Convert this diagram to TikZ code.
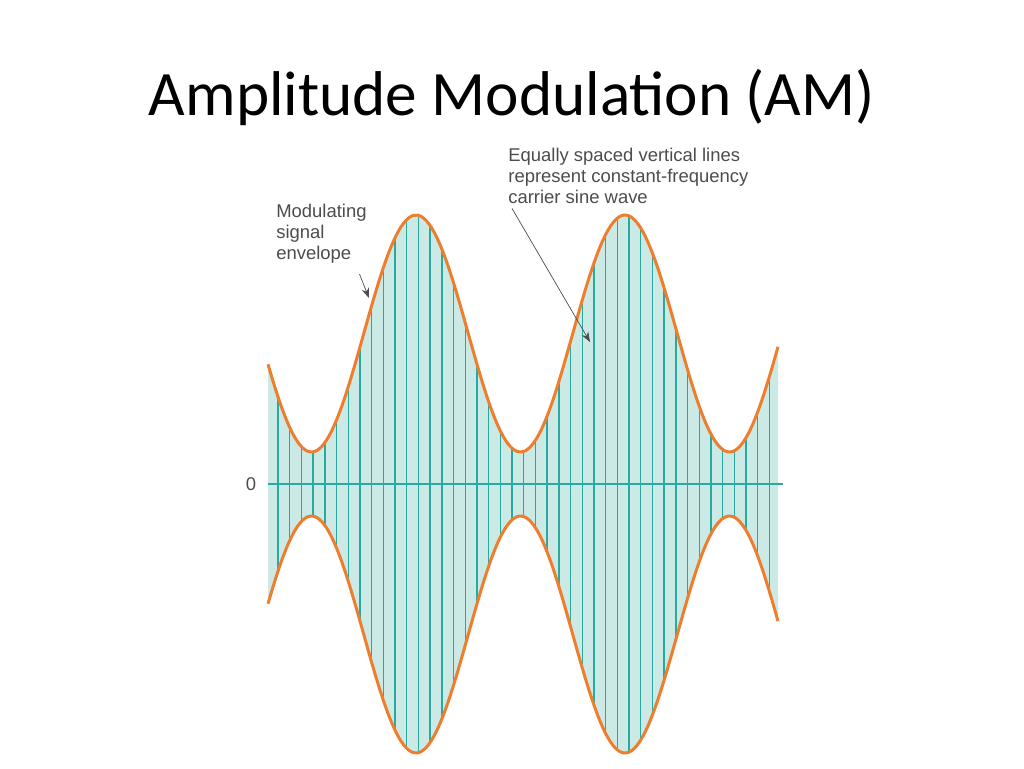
\documentclass[tikz,border=0pt]{standalone}
\usepackage{fontspec}
\setmainfont{Carlito}
\newfontfamily\labelfont{Liberation Sans}
\usetikzlibrary{positioning}
\usetikzlibrary{arrows.meta}
\definecolor{envorange}{RGB}{238,125,45}
\definecolor{carrier}{RGB}{40,170,160}
\definecolor{areafill}{RGB}{204,234,229}
\begin{document}
\begin{tikzpicture}[x=0.02cm,y=-0.02cm]
        \tikzset{note/.style = {font=\labelfont\fontsize{10.5}{12}\selectfont, text=black!70, align=left, inner sep=0pt}}
        \tikzset{pointer/.style = {-{Stealth[length=2mm]}, draw=black!70, thin}}
        \tikzset{envelope/.style = {envorange, line width=1.7pt}}
        \pgfmathdeclarefunction{amp}{1}{\pgfmathparse{150.5+118.5*cos(1.72249*(#1-416))}}
        \useasboundingbox (0,0) rectangle (1024,768);

        % title
        \node[font=\fontsize{36}{40}\selectfont] (title) at (512,97) {Amplitude Modulation (AM)};

        % filled area
        \fill[areafill] plot[domain=268:778, samples=120, smooth] (\x,{484-amp(\x)})
            -- plot[domain=778:268, samples=120, smooth] (\x,{484+amp(\x)}) -- cycle;

        % carrier lines
        \foreach \k in {0,...,42} {
            \pgfmathsetmacro{\xx}{278+11.7*\k}
            \pgfmathsetmacro{\aa}{amp(\xx)}
            \draw[carrier, line width=0.8pt] (\xx,{484-\aa}) -- (\xx,{484+\aa});
        }

        % axis
        \node[font=\labelfont\fontsize{10.5}{12}\selectfont, text=black!70] (zero) at (251,484) {0};
        \coordinate (axisend) at (783,484);
        \draw[carrier, line width=1.5pt] (zero.east) ++(6,0) -- (axisend);

        % envelopes
        \draw[envelope] plot[domain=268:778, samples=120, smooth] (\x,{484-amp(\x)});
        \draw[envelope] plot[domain=268:778, samples=120, smooth] (\x,{484+amp(\x)});

        % labels
        \node[note, anchor=north west] (envtext) at (276,204) {Modulating\\signal\\envelope};
        \node[note, anchor=north west] (cartext) at (508,148) {Equally spaced vertical lines\\represent constant-frequency\\carrier sine wave};
        \coordinate (envtip) at (369,298);
        \coordinate (cartip) at (590,342);
        \draw[pointer] (envtext.south) ++(38,10) -- (envtip);
        \draw[pointer] (cartext.south west) ++(4,4) -- (cartip);
\end{tikzpicture}
\end{document}
